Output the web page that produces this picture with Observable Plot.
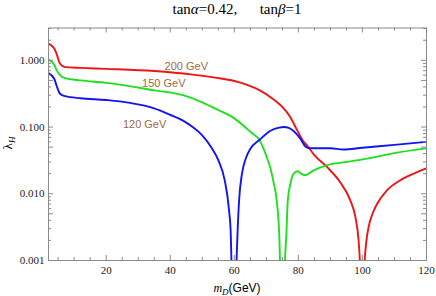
<!DOCTYPE html>
<html><head><meta charset="utf-8">
<script src="https://cdn.jsdelivr.net/npm/d3@7"></script>
<script src="https://cdn.jsdelivr.net/npm/@observablehq/plot@0.6"></script>
<style>
body{margin:0;background:#fff;}
#wrap{position:relative;width:436px;height:296px;}
#title{position:absolute;top:1px;left:0;width:436px;text-align:center;font-family:"Liberation Serif",serif;font-size:15px;color:#000;padding-left:38px;box-sizing:border-box;white-space:pre;}
#title i{font-style:italic;}
</style></head>
<body><div id="wrap"><div id="title">tan<i>α</i>=0.42,      tan<i>β</i>=1</div><div id="chart"></div></div>
<script>
// m_D (GeV) and lambda_H for three Higgs masses
const mD200 = [2, 3.8, 4.5, 5.6, 7.2, 12, 20, 35, 47, 54, 60, 64, 68, 72, 75, 77.5, 79.6, 81.7, 82.7, 85, 89, 93, 96.25, 97.8, 98.8, 99.2, 99.95, 100.7, 101.2, 102, 103, 104.6, 107.7, 111.9, 116, 120];
const lam200 = [1.78, 1.5, 1.26, 0.89, 0.79, 0.77, 0.745, 0.69, 0.61, 0.55, 0.49, 0.43, 0.355, 0.265, 0.2, 0.14, 0.09, 0.06, 0.053, 0.038, 0.025, 0.015, 0.0079, 0.0045, 0.002, 0.001, 0.0001, 0.001, 0.0019, 0.0033, 0.0048, 0.0071, 0.0113, 0.016, 0.02, 0.024];

const mD150 = [2, 3.8, 4.5, 5.6, 7.2, 12, 20, 35, 44, 50, 55, 60, 65, 68, 70, 71.3, 72.3, 73.3, 74.1, 74.25, 75.0, 75.8, 76.25, 76.7, 77.5, 78.5, 79.8, 80.6, 82.0, 84.8, 89, 96.25, 101.5, 110.8, 120];
const lam150 = [1.02, 0.86, 0.72, 0.6, 0.54, 0.5, 0.46, 0.355, 0.3, 0.235, 0.18, 0.135, 0.085, 0.062, 0.037, 0.024, 0.0145, 0.0075, 0.002, 0.001, 0.0001, 0.001, 0.0025, 0.0079, 0.014, 0.02, 0.0218, 0.0205, 0.019, 0.0225, 0.0268, 0.0306, 0.0336, 0.0413, 0.048];

const mD120 = [2, 3.8, 4.5, 5.6, 7.2, 12, 20, 27, 35, 40, 44, 47, 50, 53, 55, 57, 58.3, 58.9, 59.1, 59.9, 60.7, 61, 61.5, 62.4, 63.5, 65, 68, 71.3, 74, 75.5, 77, 78.5, 80.6, 82.2, 83.5, 87, 90, 94, 100, 110, 120];
const lam120 = [0.645, 0.53, 0.42, 0.316, 0.29, 0.27, 0.254, 0.232, 0.19, 0.152, 0.125, 0.1, 0.075, 0.048, 0.032, 0.016, 0.006, 0.0025, 0.001, 0.0001, 0.001, 0.0025, 0.008, 0.02, 0.033, 0.047, 0.065, 0.088, 0.098, 0.1, 0.097, 0.087, 0.067, 0.051, 0.048, 0.048, 0.048, 0.046, 0.049, 0.054, 0.06];

const seriesNames = ["200 GeV", "150 GeV", "120 GeV"];
const seriesColors = ["#f01414", "#1ee01e", "#1414f0"];
const labelX = [45, 38, 32];
const labelY = [0.81, 0.455, 0.11];

const xMajorTicks = [20, 40, 60, 80, 100, 120];
const xMinorTicks = [5, 10, 15, 25, 30, 35, 45, 50, 55, 65, 70, 75, 85, 90, 95, 105, 110, 115];
const yLabelTicks = [0.001, 0.005, 0.01, 0.05, 0.1, 0.5, 1];
const yMinorTicks = [0.002, 0.003, 0.004, 0.006, 0.007, 0.008, 0.009, 0.02, 0.03, 0.04, 0.06, 0.07, 0.08, 0.09, 0.2, 0.3, 0.4, 0.6, 0.7, 0.8, 0.9, 2, 3];

const rows = [];
[[mD200, lam200], [mD150, lam150], [mD120, lam120]].forEach(([xs, ys], i) => {
  xs.forEach((x, j) => rows.push({s: seriesNames[i], x, y: ys[j]}));
});
const labels = seriesNames.map((s, i) => ({s, x: labelX[i], y: labelY[i]}));

const W = 436, H = 296, mL = 48, mR = 10, mT = 27.5, mB = 36;
const FW = W - mL - mR, FH = H - mT - mB;
const tickCol = "#8a8a8a";

const chart = Plot.plot({
  width: W, height: H,
  marginLeft: mL, marginRight: mR, marginTop: mT, marginBottom: mB,
  style: {fontFamily: "Liberation Serif", fontSize: "11px", background: "#fff"},
  x: {domain: [2, 120]},
  y: {type: "log", domain: [0.001, 3.05]},
  color: {domain: seriesNames, range: seriesColors},
  marks: [
    Plot.line(rows, {x: "x", y: "y", z: "s", stroke: "s", strokeWidth: 1.9, curve: "monotone-x", clip: true}),
    Plot.frame({stroke: tickCol, strokeWidth: 1}),
    Plot.tickX(xMajorTicks, {x: d => d, insetTop: FH - 5, stroke: tickCol}),
    Plot.tickX(xMinorTicks, {x: d => d, insetTop: FH - 3, stroke: tickCol}),
    Plot.tickX(xMajorTicks, {x: d => d, insetBottom: FH - 5, stroke: tickCol}),
    Plot.tickX(xMinorTicks, {x: d => d, insetBottom: FH - 3, stroke: tickCol}),
    Plot.tickY(yLabelTicks, {y: d => d, insetRight: FW - 5, stroke: tickCol}),
    Plot.tickY(yMinorTicks, {y: d => d, insetRight: FW - 3, stroke: tickCol}),
    Plot.tickY(yLabelTicks, {y: d => d, insetLeft: FW - 5, stroke: tickCol}),
    Plot.tickY(yMinorTicks, {y: d => d, insetLeft: FW - 3, stroke: tickCol}),
    Plot.axisX({ticks: xMajorTicks, tickSize: 0, tickPadding: 6, label: null, fontSize: 11, fill: "#222"}),
    Plot.axisY({ticks: yLabelTicks, tickSize: 0, tickPadding: 4, tickFormat: d3.format(".3f"), label: null, fontSize: 11, fill: "#222"}),
    Plot.text(labels, {x: "x", y: "y", text: "s", fill: "#9c6b3f", fontFamily: "Liberation Sans", fontSize: 11})
  ]
});
document.getElementById("chart").appendChild(chart);

const svg = d3.select(chart);
const xl = svg.append("text").attr("x", 237).attr("y", 292).attr("text-anchor", "middle")
  .attr("font-size", 12).attr("fill", "#000");
xl.append("tspan").attr("font-family", "Liberation Serif").attr("font-style", "italic").text("m");
xl.append("tspan").attr("font-family", "Liberation Serif").attr("font-style", "italic").attr("font-size", 9).attr("dy", 3).text("D");
xl.append("tspan").attr("font-family", "Liberation Sans").attr("dy", -3).text("(GeV)");

const yl = svg.append("text").attr("transform", "translate(12,143) rotate(-90)").attr("text-anchor", "middle")
  .attr("font-size", 13).attr("fill", "#000").attr("font-family", "Liberation Serif");
yl.append("tspan").text("λ");
yl.append("tspan").attr("font-size", 9).attr("font-style", "italic").attr("dy", 3).text("H");
</script></body></html>
